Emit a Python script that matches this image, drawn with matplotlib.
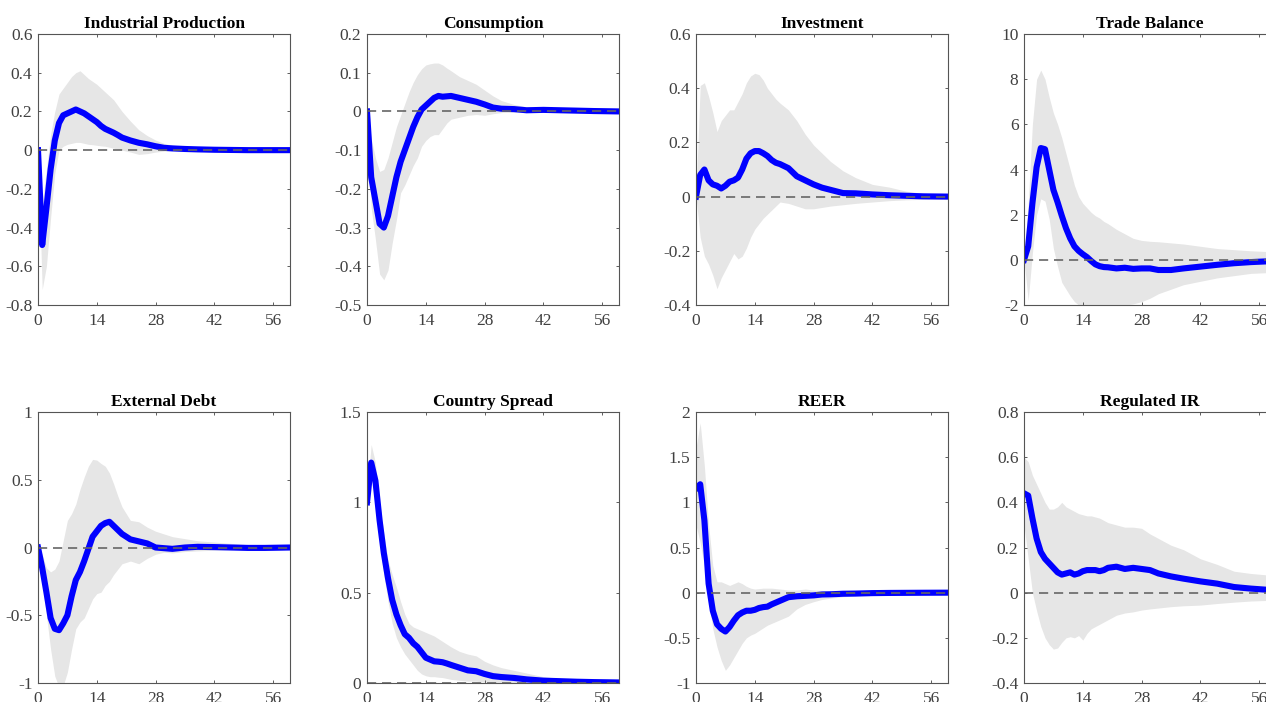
import numpy as np
import matplotlib
matplotlib.use("Agg")
import matplotlib.pyplot as plt
from matplotlib.ticker import FuncFormatter

plt.rcParams['font.family'] = ['Liberation Serif', 'DejaVu Serif']

# horizons (months)
horizon = [0, 1, 2, 3, 4, 5, 6, 7, 8, 9, 10, 11, 12, 13, 14, 15, 16, 17, 18, 19, 20,
           22, 24, 26, 28, 30, 32, 35, 38, 42, 46, 50, 54, 60]

titles = ['Industrial Production', 'Consumption', 'Investment', 'Trade Balance',
          'External Debt', 'Country Spread', 'REER', 'Regulated IR']

ylims = [(-0.8, 0.6), (-0.5, 0.2), (-0.4, 0.6), (-2, 10),
         (-1, 1), (0, 1.5), (-1, 2), (-0.4, 0.8)]
ysteps = [0.2, 0.1, 0.2, 2, 0.5, 0.5, 0.5, 0.2]

# median responses and 68% bands
ip_med = [0, -0.49, -0.30, -0.10, 0.05, 0.14, 0.18, 0.19, 0.20, 0.21, 0.20, 0.19, 0.175, 0.16, 0.145, 0.125, 0.11, 0.10, 0.09, 0.078, 0.065,
          0.05, 0.038, 0.03, 0.02, 0.012, 0.009, 0.006, 0.004, 0.002, 0.001, 0.0, 0.0, 0.0]
ip_up = [0, -0.28, -0.1, 0.08, 0.2, 0.29, 0.32, 0.35, 0.38, 0.40, 0.41, 0.39, 0.37, 0.355, 0.34, 0.32, 0.30, 0.28, 0.26, 0.23, 0.2,
         0.15, 0.105, 0.075, 0.052, 0.035, 0.025, 0.016, 0.01, 0.007, 0.005, 0.004, 0.003, 0.002]
ip_lo = [0, -0.72, -0.6, -0.35, -0.12, 0.0, 0.02, 0.03, 0.035, 0.04, 0.04, 0.035, 0.03, 0.028, 0.025, 0.022, 0.02, 0.015, 0.01, 0.005, 0.0,
         -0.01, -0.022, -0.018, -0.01, -0.005, -0.003, -0.002, -0.002, -0.001, -0.001, -0.001, -0.001, -0.001]

cons_med = [0, -0.17, -0.23, -0.29, -0.30, -0.27, -0.22, -0.17, -0.13, -0.10, -0.07, -0.04, -0.015, 0.005, 0.015, 0.025, 0.035, 0.04, 0.038, 0.039, 0.04,
            0.035, 0.03, 0.025, 0.018, 0.01, 0.007, 0.006, 0.003, 0.004, 0.003, 0.002, 0.001, 0.0]
cons_up = [0, -0.07, -0.12, -0.155, -0.15, -0.12, -0.08, -0.04, -0.01, 0.02, 0.05, 0.075, 0.095, 0.11, 0.12, 0.123, 0.125, 0.125, 0.12, 0.112, 0.105,
           0.09, 0.08, 0.07, 0.055, 0.04, 0.028, 0.018, 0.012, 0.008, 0.006, 0.004, 0.003, 0.002]
cons_lo = [0, -0.25, -0.33, -0.42, -0.435, -0.41, -0.34, -0.28, -0.21, -0.19, -0.165, -0.14, -0.12, -0.09, -0.075, -0.065, -0.06, -0.06, -0.045, -0.03, -0.02,
           -0.015, -0.01, -0.008, -0.01, -0.006, -0.003, -0.002, -0.002, -0.001, -0.001, -0.001, -0.001, -0.001]

inv_med = [0, 0.08, 0.10, 0.06, 0.045, 0.04, 0.03, 0.04, 0.055, 0.06, 0.07, 0.1, 0.14, 0.16, 0.168, 0.168, 0.16, 0.15, 0.135, 0.125, 0.12,
           0.105, 0.075, 0.06, 0.045, 0.033, 0.025, 0.013, 0.012, 0.008, 0.005, 0.003, 0.001, 0.0]
inv_up = [0, 0.41, 0.42, 0.37, 0.31, 0.24, 0.28, 0.3, 0.32, 0.32, 0.35, 0.38, 0.42, 0.445, 0.455, 0.45, 0.43, 0.40, 0.38, 0.36, 0.345,
          0.32, 0.28, 0.23, 0.19, 0.16, 0.13, 0.095, 0.07, 0.045, 0.035, 0.02, 0.012, 0.006]
inv_lo = [0, -0.15, -0.22, -0.25, -0.29, -0.34, -0.30, -0.27, -0.24, -0.21, -0.23, -0.22, -0.19, -0.15, -0.12, -0.10, -0.08, -0.065, -0.05, -0.035, -0.02,
          -0.025, -0.035, -0.045, -0.045, -0.04, -0.035, -0.03, -0.025, -0.02, -0.015, -0.012, -0.01, -0.008]

tb_med = [0, 0.6, 2.5, 4.1, 4.95, 4.9, 4.0, 3.1, 2.55, 1.95, 1.4, 0.95, 0.6, 0.4, 0.25, 0.12, -0.05, -0.2, -0.28, -0.32, -0.33,
          -0.38, -0.35, -0.4, -0.38, -0.38, -0.45, -0.45, -0.38, -0.3, -0.22, -0.15, -0.1, -0.05]
tb_up = [0, 2.5, 6.0, 8.0, 8.4, 8.0, 7.2, 6.5, 6.0, 5.4, 4.7, 4.0, 3.3, 2.8, 2.5, 2.3, 2.1, 1.95, 1.85, 1.7, 1.6,
         1.35, 1.15, 0.95, 0.86, 0.82, 0.8, 0.75, 0.7, 0.6, 0.5, 0.45, 0.4, 0.35]
tb_lo = [0, -1.8, 0.3, 2.0, 2.7, 2.6, 1.8, 0.5, -0.3, -1.0, -1.3, -1.6, -1.85, -2.0, -2.1, -2.15, -2.15, -2.1, -2.1, -2.1, -2.05,
         -2.05, -2.0, -1.95, -1.85, -1.7, -1.5, -1.3, -1.1, -0.95, -0.8, -0.7, -0.6, -0.55]

ed_med = [0, -0.15, -0.33, -0.52, -0.6, -0.61, -0.56, -0.5, -0.36, -0.24, -0.18, -0.1, -0.01, 0.08, 0.12, 0.16, 0.18, 0.19, 0.16, 0.13, 0.1,
          0.06, 0.045, 0.03, 0.0, -0.005, -0.01, 0.0, 0.005, 0.003, 0.0, -0.003, -0.003, 0.0]
ed_up = [0, -0.05, -0.15, -0.18, -0.16, -0.1, 0.05, 0.2, 0.25, 0.32, 0.43, 0.52, 0.6, 0.65, 0.645, 0.62, 0.6, 0.55, 0.47, 0.38, 0.3,
         0.2, 0.19, 0.15, 0.12, 0.1, 0.08, 0.065, 0.05, 0.04, 0.03, 0.02, 0.012, 0.008]
ed_lo = [0, -0.25, -0.5, -0.75, -0.95, -1.03, -1.02, -0.92, -0.75, -0.6, -0.55, -0.52, -0.45, -0.38, -0.34, -0.33, -0.28, -0.25, -0.2, -0.16, -0.12,
         -0.1, -0.12, -0.08, -0.05, -0.035, -0.04, -0.03, -0.025, -0.02, -0.015, -0.012, -0.01, -0.008]

cs_med = [1.0, 1.22, 1.12, 0.9, 0.72, 0.58, 0.46, 0.38, 0.32, 0.27, 0.25, 0.22, 0.2, 0.17, 0.14, 0.13, 0.12, 0.118, 0.115, 0.108, 0.1,
          0.085, 0.07, 0.065, 0.05, 0.038, 0.033, 0.028, 0.02, 0.013, 0.01, 0.007, 0.005, 0.003]
cs_up = [1.05, 1.32, 1.22, 1.0, 0.83, 0.68, 0.6, 0.53, 0.45, 0.38, 0.33, 0.31, 0.3, 0.29, 0.28, 0.27, 0.26, 0.245, 0.23, 0.215, 0.2,
         0.175, 0.16, 0.15, 0.12, 0.1, 0.085, 0.07, 0.055, 0.035, 0.025, 0.015, 0.01, 0.007]
cs_lo = [0.95, 1.15, 1.0, 0.78, 0.6, 0.45, 0.33, 0.25, 0.2, 0.16, 0.13, 0.1, 0.07, 0.05, 0.04, 0.035, 0.035, 0.032, 0.03, 0.025, 0.02,
         0.015, 0.01, 0.01, 0.005, 0.003, 0.002, 0.001, 0.001, 0.0, 0.0, 0.0, 0.0, 0.0]

reer_med = [1.15, 1.2, 0.8, 0.1, -0.2, -0.35, -0.4, -0.43, -0.38, -0.31, -0.25, -0.22, -0.2, -0.2, -0.19, -0.17, -0.16, -0.155, -0.13, -0.11, -0.09,
            -0.05, -0.04, -0.035, -0.03, -0.02, -0.018, -0.012, -0.01, -0.005, -0.003, -0.002, -0.001, 0.0]
reer_up = [1.6, 1.88, 1.4, 0.75, 0.3, 0.12, 0.12, 0.1, 0.08, 0.1, 0.12, 0.1, 0.07, 0.05, 0.04, 0.045, 0.05, 0.05, 0.05, 0.045, 0.04,
           0.03, 0.03, 0.04, 0.03, 0.025, 0.02, 0.015, 0.012, 0.01, 0.008, 0.006, 0.005, 0.004]
reer_lo = [0.75, 0.55, 0.3, -0.1, -0.4, -0.6, -0.75, -0.86, -0.8, -0.72, -0.64, -0.56, -0.5, -0.47, -0.45, -0.42, -0.39, -0.36, -0.34, -0.32, -0.3,
           -0.26, -0.18, -0.13, -0.1, -0.075, -0.06, -0.045, -0.035, -0.025, -0.018, -0.012, -0.01, -0.008]

rir_med = [0.44, 0.43, 0.33, 0.24, 0.18, 0.15, 0.13, 0.11, 0.09, 0.08, 0.085, 0.09, 0.08, 0.085, 0.095, 0.1, 0.1, 0.1, 0.095, 0.1, 0.11,
           0.115, 0.105, 0.11, 0.105, 0.1, 0.085, 0.072, 0.062, 0.05, 0.04, 0.025, 0.018, 0.01]
rir_up = [0.6, 0.58, 0.52, 0.48, 0.44, 0.4, 0.37, 0.37, 0.38, 0.4, 0.38, 0.37, 0.36, 0.35, 0.345, 0.34, 0.34, 0.335, 0.33, 0.32, 0.31,
          0.3, 0.29, 0.29, 0.285, 0.26, 0.24, 0.21, 0.19, 0.15, 0.125, 0.095, 0.085, 0.075]
rir_lo = [0.3, 0.15, 0.0, -0.08, -0.15, -0.2, -0.23, -0.25, -0.245, -0.22, -0.2, -0.195, -0.2, -0.19, -0.21, -0.18, -0.16, -0.15, -0.14, -0.13, -0.12,
          -0.1, -0.09, -0.085, -0.077, -0.072, -0.068, -0.062, -0.058, -0.055, -0.048, -0.042, -0.037, -0.033]

medians = [ip_med, cons_med, inv_med, tb_med, ed_med, cs_med, reer_med, rir_med]
uppers = [ip_up, cons_up, inv_up, tb_up, ed_up, cs_up, reer_up, rir_up]
lowers = [ip_lo, cons_lo, inv_lo, tb_lo, ed_lo, cs_lo, reer_lo, rir_lo]

W, H = 1266, 702
fig = plt.figure(figsize=(W / 100, H / 100), dpi=100)

lefts = [38, 367, 696, 1024]
tops = [34, 412]
aw, ah = 252, 271

fmt = FuncFormatter(lambda v, p: '%g' % (round(v, 6) + 0.0))

for i in range(8):
    r, c = divmod(i, 4)
    ax = fig.add_axes([lefts[c] / W, 1 - (tops[r] + ah) / H, aw / W, ah / H])
    ax.fill_between(horizon, lowers[i], uppers[i], color='#e6e6e6', lw=0)
    ax.plot(horizon, medians[i], color='#0000ff', lw=4.4, solid_joinstyle='round')
    ax.axhline(0, color='#666666', lw=1.2, ls=(0, (5.5, 3.5)))
    ax.set_xlim(0, 60)
    ax.set_ylim(*ylims[i])
    ax.set_xticks([0, 14, 28, 42, 56])
    lo, hi = ylims[i]
    ax.set_yticks(np.arange(lo, hi + ysteps[i] / 2, ysteps[i]))
    ax.yaxis.set_major_formatter(fmt)
    ax.tick_params(direction='in', top=True, right=True, length=2.5, width=0.6,
                   color='#444444', labelcolor='#404040', labelsize=12.5)
    ax.tick_params(axis='x', pad=6)
    ax.tick_params(axis='y', pad=4)
    for sp in ax.spines.values():
        sp.set_color('#555555')
        sp.set_linewidth(0.8)
    ax.set_title(titles[i], fontsize=12.5, fontweight='bold', pad=4)

fig.savefig('out.png', dpi=100)
